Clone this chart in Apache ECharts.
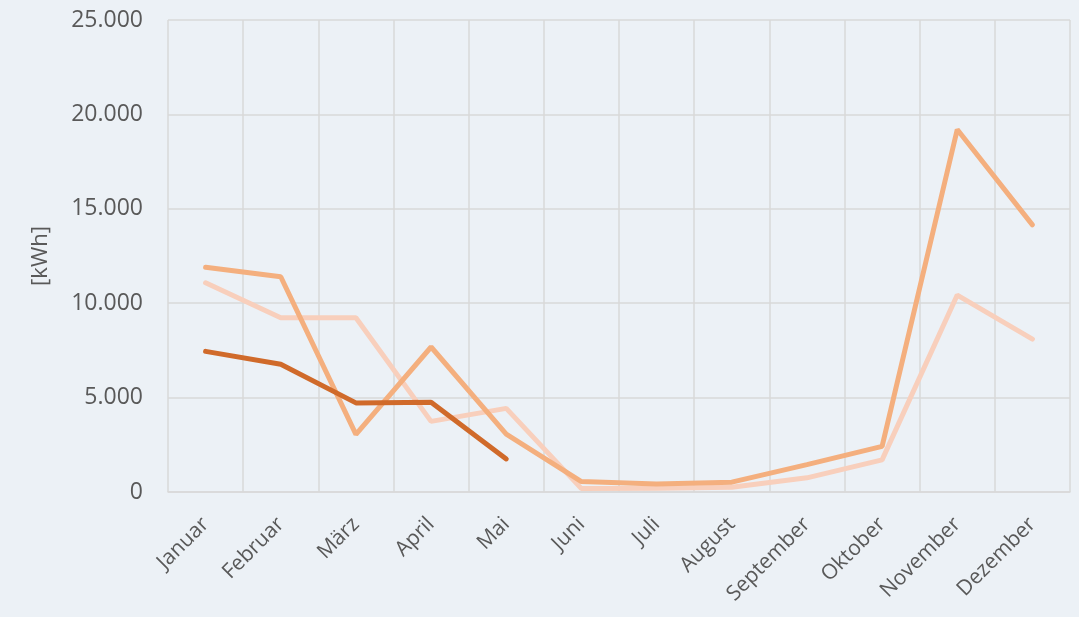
<!DOCTYPE html>
<html>
<head>
<meta charset="utf-8">
<script src="https://cdn.jsdelivr.net/npm/echarts@6/dist/echarts.min.js"></script>
<style>
html,body{margin:0;padding:0;background:#ECF1F6;}
#chart{width:1079px;height:617px;}
</style>
</head>
<body>
<div id="chart"></div>
<script>
const categories = ['Januar','Februar','März','April','Mai','Juni','Juli','August','September','Oktober','November','Dezember'];
const seriesA = [11900, 11400, 3050, 7680, 3060, 550, 420, 520, 1450, 2420, 19200, 14150];
const seriesB = [11080, 9230, 9230, 3740, 4430, 180, 200, 250, 750, 1700, 10430, 8100];
const seriesC = [7450, 6770, 4720, 4760, 1750, null, null, null, null, null, null, null];
const yTicks = [0, 5000, 10000, 15000, 20000, 25000];

function fmt(v){ return v === 0 ? '0' : String(v).replace(/\B(?=(\d{3})+(?!\d))/g, '.'); }

const chart = echarts.init(document.getElementById('chart'), null, {renderer:'canvas'});
const font = "'Open Sans', 'Liberation Sans', sans-serif";
chart.setOption({
  backgroundColor: '#ECF1F6',
  animation: false,
  grid: {left: 168, right: 9, top: 20, bottom: 125},
  xAxis: {
    type: 'category',
    data: categories,
    boundaryGap: true,
    axisLine: {show: true, lineStyle: {color: '#D9D9D9', width: 1.5}},
    axisTick: {show: false},
    splitLine: {show: true, lineStyle: {color: '#D9D9D9', width: 1.5}},
    axisLabel: {rotate: 45, color: '#595959', fontSize: 21, fontFamily: font, margin: 29, interval: 0}
  },
  yAxis: {
    type: 'value',
    min: yTicks[0],
    max: yTicks[yTicks.length - 1],
    interval: 5000,
    name: '[kWh]',
    nameLocation: 'middle',
    nameGap: 116,
    nameRotate: 90,
    nameTextStyle: {color: '#595959', fontSize: 22, fontFamily: font},
    axisLine: {show: false},
    axisTick: {show: false},
    splitLine: {show: true, lineStyle: {color: '#D9D9D9', width: 1.5}},
    axisLabel: {color: '#595959', fontSize: 23, fontFamily: font, margin: 25, formatter: fmt}
  },
  series: [
    {type: 'line', data: seriesB, symbol: 'none', lineStyle: {color: '#F8CFBC', width: 5, cap: 'round'}},
    {type: 'line', data: seriesA, symbol: 'none', lineStyle: {color: '#F4AF7E', width: 5, cap: 'round'}},
    {type: 'line', data: seriesC, symbol: 'none', lineStyle: {color: '#D06A2A', width: 5, cap: 'round'}}
  ]
});
</script>
</body>
</html>
